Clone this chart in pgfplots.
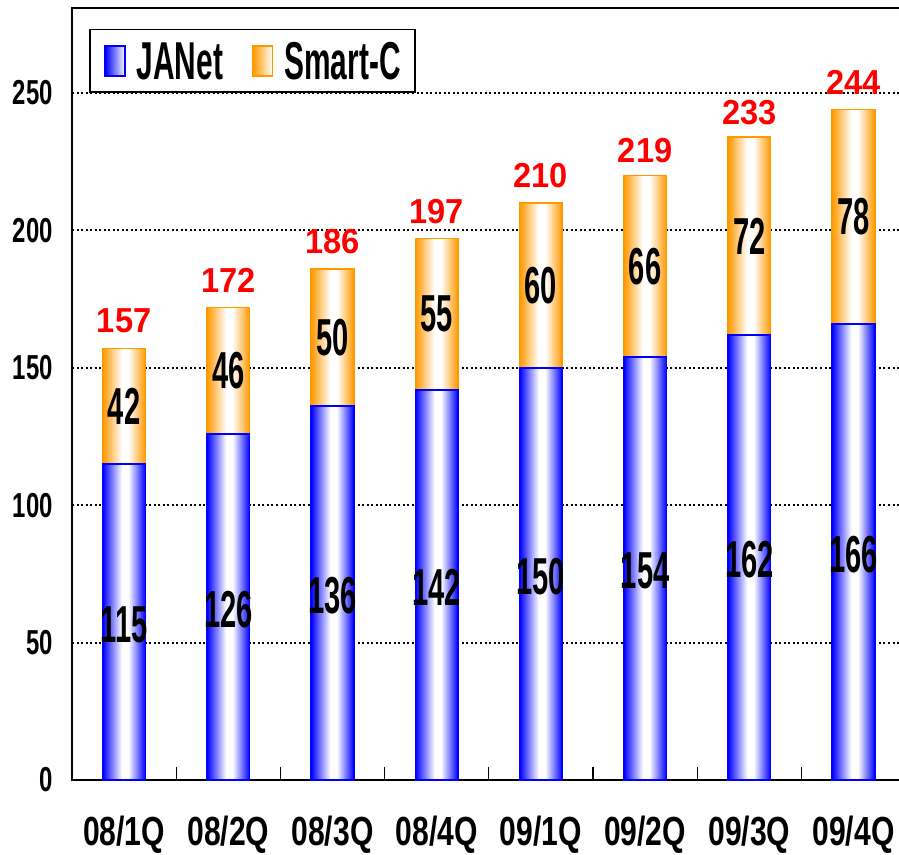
\documentclass[border=0pt]{standalone}
\usepackage{pgfplots}
\pgfplotsset{compat=1.18}
\usepackage{pgfplotstable}
\usepackage{fontspec}
\setmainfont{Liberation Sans}
\newfontfamily\fy[FakeStretch=0.69]{Liberation Sans}
\newfontfamily\fx[FakeStretch=0.74]{Liberation Sans}
\newfontfamily\fbar[FakeStretch=0.56]{Liberation Sans}
\newfontfamily\ftot[FakeStretch=0.94]{Liberation Sans}
\definecolor{jblue}{RGB}{0,0,255}
\definecolor{sorange}{RGB}{255,153,0}

% one gradient (edge - white - edge) per bar, laid across the whole row of bars
\pgfdeclarehorizontalshading{blueshade}{100bp}{%
color(0bp)=(jblue); color(25.000bp)=(jblue); color(26.245bp)=(white); color(26.660bp)=(white); color(27.767bp)=(jblue);
color(31.748bp)=(jblue); color(32.993bp)=(white); color(33.408bp)=(white); color(34.514bp)=(jblue);
color(38.495bp)=(jblue); color(39.740bp)=(white); color(40.155bp)=(white); color(41.262bp)=(jblue);
color(45.243bp)=(jblue); color(46.488bp)=(white); color(46.903bp)=(white); color(48.009bp)=(jblue);
color(51.990bp)=(jblue); color(53.235bp)=(white); color(53.650bp)=(white); color(54.757bp)=(jblue);
color(58.738bp)=(jblue); color(59.983bp)=(white); color(60.398bp)=(white); color(61.505bp)=(jblue);
color(65.486bp)=(jblue); color(66.731bp)=(white); color(67.146bp)=(white); color(68.252bp)=(jblue);
color(72.233bp)=(jblue); color(73.478bp)=(white); color(73.893bp)=(white); color(75.000bp)=(jblue);
color(100bp)=(jblue)}
\pgfdeclarehorizontalshading{orangeshade}{100bp}{%
color(0bp)=(sorange); color(25.000bp)=(sorange); color(26.245bp)=(white); color(26.660bp)=(white); color(27.767bp)=(sorange);
color(31.748bp)=(sorange); color(32.993bp)=(white); color(33.408bp)=(white); color(34.514bp)=(sorange);
color(38.495bp)=(sorange); color(39.740bp)=(white); color(40.155bp)=(white); color(41.262bp)=(sorange);
color(45.243bp)=(sorange); color(46.488bp)=(white); color(46.903bp)=(white); color(48.009bp)=(sorange);
color(51.990bp)=(sorange); color(53.235bp)=(white); color(53.650bp)=(white); color(54.757bp)=(sorange);
color(58.738bp)=(sorange); color(59.983bp)=(white); color(60.398bp)=(white); color(61.505bp)=(sorange);
color(65.486bp)=(sorange); color(66.731bp)=(white); color(67.146bp)=(white); color(68.252bp)=(sorange);
color(72.233bp)=(sorange); color(73.478bp)=(white); color(73.893bp)=(white); color(75.000bp)=(sorange);
color(100bp)=(sorange)}

\pgfplotstableread{
x janet smart total
0 115 42 157
1 126 46 172
2 136 50 186
3 142 55 197
4 150 60 210
5 154 66 219
6 162 72 233
7 166 78 244
}\data

\begin{document}
\begin{tikzpicture}
\clip (-54pt,-55.5pt) rectangle (620.25pt,585pt);
\begin{axis}[
  at={(0,0)}, anchor=south west,
  x=78.15pt, y=2.061pt,
  xmin=-0.5, xmax=7.5, ymin=0, ymax=281,
  ybar stacked, bar width=0.41,
  /pgf/number format/assume math mode=true,
  axis line style={line width=1.5pt},
  xtick={0,...,7},
  xticklabels={08/1Q,08/2Q,08/3Q,08/4Q,09/1Q,09/2Q,09/3Q,09/4Q},
  minor xtick={0.5,1.5,...,7.5},
  ytick={0,50,...,250},
  yticklabels={0,50,100,150,200,250},
  xtick pos=left, ytick pos=left,
  tick align=inside,
  major tick length=0pt,
  minor tick length=9.75pt,
  minor tick style={line width=1pt, black},
  ymajorgrids,
  grid style={line width=1.5pt, dash pattern=on 1.5pt off 1.9pt, black},
  xticklabel style={font=\fx\bfseries\fontsize{30.5}{30.5}\selectfont, anchor=north, inner sep=0pt, yshift=-27pt},
  yticklabel style={font=\fy\bfseries\fontsize{26}{26}\selectfont, anchor=east, inner sep=0pt, xshift=-14.25pt},
  legend columns=2,
  legend style={at={(0.0204,0.9728)}, anchor=north west, draw=black, line width=1.2pt,
    font=\fbar\bfseries\fontsize{40}{40}\selectfont,
    inner xsep=11pt, inner ysep=9.5pt,
    nodes={inner sep=0pt, text depth=0pt},
    /tikz/every odd column/.append style={column sep=8.25pt},
    /tikz/every even column/.append style={column sep=21.75pt}},
]
\addplot[draw=jblue, line width=1.2pt, shade, shading=blueshade,
  nodes near coords, point meta=explicit,
  every node near coord/.append style={text=black, font=\fbar\bfseries\fontsize{39}{39}\selectfont,
    anchor=center, inner sep=0pt, yshift=-2pt},
  legend image code/.code={\draw[line width=1pt, draw=jblue, left color=jblue, right color=white] (0pt,-11.25pt) rectangle (15pt,11.25pt);}
] table[x=x, y=janet, meta=janet] {\data};
\addplot[draw=sorange, line width=1.2pt, shade, shading=orangeshade,
  nodes near coords, point meta=explicit,
  every node near coord/.append style={text=black, font=\fbar\bfseries\fontsize{39}{39}\selectfont,
    anchor=center, inner sep=0pt},
  legend image code/.code={\draw[line width=1pt, draw=sorange, left color=sorange, right color=white] (0pt,-11.25pt) rectangle (15pt,11.25pt);}
] table[x=x, y=smart, meta=smart] {\data};
\addplot[stack plots=false, draw=none, fill=none, forget plot,
  nodes near coords, point meta=explicit,
  visualization depends on=rawy \as \t,
  every node near coord/.append style={text=red, font=\ftot\bfseries\fontsize{26}{26}\selectfont,
    anchor=center, inner sep=0pt, yshift=\t*1.0305pt+20.5pt}
] table[x=x, y=total, meta=total] {\data};
\legend{JANet, Smart-C}
\end{axis}
\end{tikzpicture}
\end{document}
